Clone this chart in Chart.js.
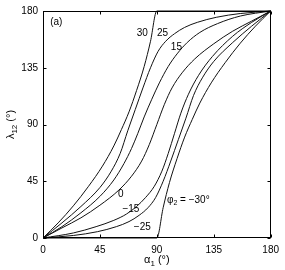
<!DOCTYPE html>
<html>
<head>
<meta charset="utf-8">
<script src="https://cdn.jsdelivr.net/npm/chart.js@4"></script>
<style>
  html, body { margin: 0; padding: 0; background: #fff; }
  canvas { display: block; }
</style>
</head>
<body>
<canvas id="chart" width="285" height="270"></canvas>
<script>
// lambda_12 vs alpha_1 for several phi_2 (degrees)
const xTicks = [0, 45, 90, 135, 180];
const yTicks = [0, 45, 90, 135, 180];

const phi2Values = [30, 25, 15, 0, -15, -25, -30];

const alphaP30 = [0, 12, 24, 36, 47, 56, 62, 68, 74, 80, 85, 90, 180];
const lambdaP30 = [0, 12, 25.5, 41, 57, 73, 86, 100, 117, 136, 156, 180, 180];

const alphaP25 = [0, 15, 30, 45, 54, 61, 67, 73, 79, 85, 91, 97, 104, 112, 122, 137, 156, 180];
const lambdaP25 = [0, 12, 25, 40, 53, 67, 85, 102, 119, 135, 148, 156, 162, 167, 171, 175, 178, 180];

const alphaP15 = [0, 15, 30, 45, 56, 64, 70, 75, 80, 86, 92, 99, 106, 114, 124, 138, 156, 180];
const lambdaP15 = [0, 9, 20, 33, 46, 59, 71, 83, 96, 110, 123, 136, 146, 155, 163, 170, 176, 180];

const alphaP0 = [0, 15, 30, 45, 60, 70, 78, 84, 90, 96, 102, 110, 120, 135, 150, 165, 180];
const lambdaP0 = [0, 8, 16, 26, 38, 49, 61, 74, 90, 106, 119, 131, 142, 154, 164, 172, 180];

const alphaM15 = [0, 24, 42, 56, 66, 74, 81, 88, 94, 99, 104, 109, 115, 123, 134, 150, 165, 180];
const lambdaM15 = [0, 4, 9, 14, 19, 25, 32, 41, 53, 67, 83, 99, 114, 129, 144, 160, 171, 180];

const alphaM25 = [0, 24, 43, 58, 68, 76, 83, 89, 95, 101, 107, 113, 119, 126, 135, 150, 165, 180];
const lambdaM25 = [0, 2, 5, 9, 13, 18, 24, 32, 45, 61, 78, 95, 113, 127, 140, 155, 168, 180];

const alphaM30 = [0, 90, 95, 100, 106, 112, 118, 124, 133, 144, 156, 168, 180];
const lambdaM30 = [0, 0, 24, 44, 63, 80, 94, 107, 123, 139, 154.5, 168, 180];

const curves = [
    [alphaP30, lambdaP30],
    [alphaP25, lambdaP25],
    [alphaP15, lambdaP15],
    [alphaP0, lambdaP0],
    [alphaM15, lambdaM15],
    [alphaM25, lambdaM25],
    [alphaM30, lambdaM30]
];

// curve labels, placed in data coordinates
const curveLabels = [
    { text: '30', x: 78.5, y: 162.5 },
    { text: '25', x: 94.5, y: 162.5 },
    { text: '15', x: 105.5, y: 151 },
    { text: '0', x: 61.5, y: 35 },
    { text: '\u221215', x: 69.5, y: 23 },
    { text: '\u221225', x: 78.5, y: 8.5 },
    { text: '(a)', x: 10.5, y: 171 }
];

const FONT = '"Liberation Sans", Arial, Helvetica, sans-serif';
const INK = '#000';

const datasets = curves.map(([xs, ys], i) => ({
    label: 'phi2 = ' + phi2Values[i],
    data: xs.map((v, j) => ({ x: v, y: ys[j] })),
    showLine: true,
    borderColor: '#111',
    borderWidth: 1,
    pointRadius: 0,
    cubicInterpolationMode: 'monotone',
    clip: false
}));

// draws the box, inward ticks, titles with subscripts and curve labels
const decorations = {
    id: 'decorations',
    afterDraw(chart) {
        const { ctx, chartArea: a, scales: { x, y } } = chart;
        ctx.save();
        ctx.strokeStyle = INK;
        ctx.lineWidth = 1;
        const L = Math.round(a.left) + 0.5, R = Math.round(a.right) - 0.5;
        const T = Math.round(a.top) + 0.5, B = Math.round(a.bottom) - 0.5;
        ctx.strokeRect(L, T, R - L, B - T);

        const tl = 3;
        ctx.beginPath();
        xTicks.forEach(v => {
            const px = Math.round(x.getPixelForValue(v)) + 0.5;
            ctx.moveTo(px, B); ctx.lineTo(px, B - tl);
            ctx.moveTo(px, T); ctx.lineTo(px, T + tl);
        });
        yTicks.forEach(v => {
            const py = Math.round(y.getPixelForValue(v)) + 0.5;
            ctx.moveTo(L, py); ctx.lineTo(L + tl, py);
            ctx.moveTo(R, py); ctx.lineTo(R - tl, py);
        });
        ctx.stroke();

        ctx.fillStyle = INK;
        ctx.textBaseline = 'middle';
        ctx.textAlign = 'center';
        ctx.font = '10px ' + FONT;
        curveLabels.forEach(l => {
            ctx.fillText(l.text, x.getPixelForValue(l.x), y.getPixelForValue(l.y));
        });

        // phi_2 = -30 deg label
        ctx.textAlign = 'left';
        let px = x.getPixelForValue(98), py = y.getPixelForValue(30);
        ctx.font = '10px ' + FONT;
        ctx.fillText('\u03c6', px, py);
        px += ctx.measureText('\u03c6').width;
        ctx.font = '7px ' + FONT;
        ctx.fillText('2', px, py + 3);
        px += ctx.measureText('2').width;
        ctx.font = '10px ' + FONT;
        ctx.fillText(' = \u221230\u00b0', px, py);

        // axis titles
        const drawSub = (main, sub, rest, cx, cy) => {
            ctx.font = '11px ' + FONT;
            const w1 = ctx.measureText(main).width;
            const w3 = ctx.measureText(rest).width;
            ctx.font = '8px ' + FONT;
            const w2 = ctx.measureText(sub).width;
            let sx = cx - (w1 + w2 + w3) / 2;
            ctx.textAlign = 'left';
            ctx.textBaseline = 'alphabetic';
            ctx.font = '11px ' + FONT;
            ctx.fillText(main, sx, cy);
            sx += w1;
            ctx.font = '8px ' + FONT;
            ctx.fillText(sub, sx, cy + 3);
            sx += w2;
            ctx.font = '11px ' + FONT;
            ctx.fillText(rest, sx, cy);
        };
        drawSub('\u03b1', '1', ' (\u00b0)', (a.left + a.right) / 2, 263);

        ctx.save();
        ctx.translate(14, (a.top + a.bottom) / 2);
        ctx.rotate(-Math.PI / 2);
        drawSub('\u03bb', '12', ' (\u00b0)', 0, 0);
        ctx.restore();

        ctx.restore();
    }
};

new Chart(document.getElementById('chart'), {
    type: 'scatter',
    data: { datasets },
    options: {
        responsive: false,
        animation: false,
        layout: { padding: { top: 10, right: 13, left: 0, bottom: 0 } },
        plugins: {
            legend: { display: false },
            tooltip: { enabled: false }
        },
        scales: {
            x: {
                type: 'linear',
                min: 0,
                max: 180,
                afterBuildTicks: s => { s.ticks = xTicks.map(v => ({ value: v })); },
                afterFit: s => { s.height = 32; },
                grid: { display: false, drawTicks: false },
                border: { display: false },
                ticks: { color: INK, padding: 6, maxRotation: 0, font: { size: 10, family: FONT } }
            },
            y: {
                type: 'linear',
                min: 0,
                max: 180,
                afterBuildTicks: s => { s.ticks = yTicks.map(v => ({ value: v })); },
                afterFit: s => { s.width = 43; },
                grid: { display: false, drawTicks: false },
                border: { display: false },
                ticks: { color: INK, padding: 5, font: { size: 10, family: FONT } }
            }
        }
    },
    plugins: [decorations]
});
</script>
</body>
</html>
